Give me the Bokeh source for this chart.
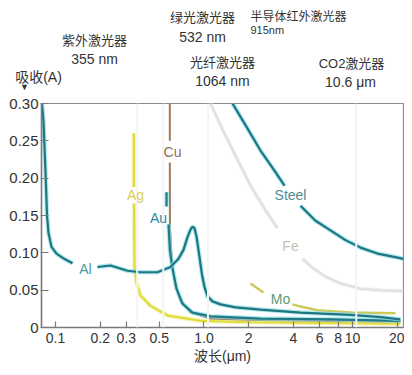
from bokeh.plotting import figure
from bokeh.layouts import column
from bokeh.models import Range1d, FixedTicker, Label, Span
from bokeh.embed import file_html
from bokeh.resources import INLINE

NAN = float("nan")

# ---- axes ----
x_ticks = [0.1, 0.2, 0.3, 0.5, 1.0, 2, 4, 6, 8, 10, 20]
x_tick_labels = ["0.1", "0.2", "0.3", "0.5", "1.0", "2", "4", "6", "8", "10", "20"]
y_ticks = [0, 0.05, 0.10, 0.15, 0.20, 0.25, 0.30]
y_tick_labels = ["0", "0.05", "0.10", "0.15", "0.20", "0.25", "0.30"]

# ---- laser wavelengths (um) ----
laser_wl = [0.355, 0.532, 1.064, 10.6]

# ---- absorption curves: wavelength (um) / absorption A ----
al_wl = [0.0811, 0.0830, 0.0856, 0.0877, 0.0897, 0.0940, 0.1016, 0.1144, 0.1302, NAN,
         0.1918, 0.2346, 0.3054, 0.3736, 0.4862, 0.5947, 0.6734, 0.7277, 0.7743, 0.8111,
         0.8367, 0.8630, 0.8902, 0.9255, 0.9694, 1.008, 1.056, 1.141, 1.291, 1.630,
         2.402, 4.465, 9.694, 15.44, 21.0]
al_abs = [0.300, 0.277, 0.210, 0.150, 0.127, 0.108, 0.099, 0.092, 0.086, NAN,
          0.081, 0.083, 0.076, 0.074, 0.074, 0.081, 0.092, 0.104, 0.121, 0.131,
          0.135, 0.133, 0.122, 0.099, 0.071, 0.054, 0.042, 0.035, 0.031, 0.027,
          0.024, 0.020, 0.017, 0.014, 0.011]

ag_wl = [0.337, 0.337, NAN, 0.338, 0.3404, 0.3511, 0.3736, 0.4362, 0.5679, 0.9472, 2.057, 21.0]
ag_abs = [0.260, 0.188, NAN, 0.166, 0.083, 0.060, 0.043, 0.029, 0.016, 0.009, 0.007, 0.005]

cu_wl = [0.5886, 0.5886, NAN, 0.5886, 0.5897, 0.6089, 0.6428, 0.6947, 0.8111, 1.106, 2.402, 21.0]
cu_abs = [0.300, 0.250, NAN, 0.221, 0.134, 0.087, 0.056, 0.036, 0.020, 0.012, 0.010, 0.008]

au_wl = [0.5594, 0.5594, NAN, 0.577, 0.5897, 0.6136, 0.6529, 0.7164, 0.8367, 1.106, 2.402, 7.11, 21.0]
au_abs = [0.181, 0.162, NAN, 0.138, 0.103, 0.079, 0.052, 0.032, 0.020, 0.015, 0.012, 0.011, 0.009]

steel_wl = [1.556, 1.903, 2.402, 3.030, 3.484, NAN, 4.465, 5.635, 7.109, 8.973, 11.32, 14.74, 19.79, 22.05]
steel_abs = [0.300, 0.271, 0.237, 0.208, 0.190, NAN, 0.163, 0.143, 0.130, 0.117, 0.107, 0.099, 0.094, 0.092]

fe_wl = [1.106, 1.291, 1.630, 2.057, 2.595, 3.126, NAN, 4.606, 5.378, 6.579, 8.302, 11.32, 15.44, 22.0]
fe_abs = [0.300, 0.271, 0.230, 0.190, 0.157, 0.133, NAN, 0.092, 0.080, 0.068, 0.059, 0.052, 0.050, 0.049]

mo_wl = [2.057, 2.515, NAN, 3.945, 4.465, 5.812, 9.694, 19.49]
mo_abs = [0.059, 0.047, NAN, 0.031, 0.028, 0.023, 0.020, 0.019]

FONT = "Liberation Sans, Noto Sans CJK SC"

# ---------- header strip with laser annotations ----------
top = figure(width=404, height=90, x_range=Range1d(0, 404), y_range=Range1d(90, 0),
             output_backend="svg", toolbar_location=None,
             x_axis_location=None, y_axis_location=None,
             min_border_left=0, min_border_right=0, min_border_top=0, min_border_bottom=0)
top.frame_align = False
top.outline_line_color = None
top.xgrid.visible = False
top.ygrid.visible = False
top_labels = [
    ("紫外激光器", 94, 40, "center", "13px"),
    ("355 nm", 94, 58, "center", "14px"),
    ("绿光激光器", 202, 17, "center", "13px"),
    ("532 nm", 202, 36, "center", "14px"),
    ("半导体红外激光器", 250, 16, "left", "12px"),
    ("915nm", 250, 29, "left", "11px"),
    ("光纤激光器", 222, 62, "center", "13px"),
    ("1064 nm", 222, 80, "center", "14px"),
    ("CO2激光器", 351, 63, "center", "13px"),
    ("10.6 μm", 350, 81, "center", "14px"),
    ("吸收(A)", 38, 76, "center", "14px"),
    ("▼", 24, 86, "center", "9px"),
]
for t, x, y, al, fs in top_labels:
    top.add_layout(Label(x=x, y=y, text=t, text_align=al, text_baseline="middle",
                         text_font=FONT, text_font_size=fs, text_color="#333333"))

# ---------- main chart ----------
p = figure(width=404, height=277, x_axis_type="log",
           x_range=Range1d(0.0805, 22.05), y_range=Range1d(0, 0.30),
           output_backend="svg", toolbar_location=None,
           min_border_left=41, min_border_right=1, min_border_top=13, min_border_bottom=40)
p.frame_align = False
p.background_fill_color = "white"
p.border_fill_color = "white"
p.outline_line_color = "#8c8c8c"
p.outline_line_width = 1.2
p.xgrid.visible = False
p.ygrid.visible = False

for w in laser_wl:
    p.add_layout(Span(location=w, dimension="height", line_color="#f4f4f4", line_width=2))

# Fe (light gray)
p.line(fe_wl, fe_abs, line_color="#f0f0f0", line_width=4)
p.line(fe_wl, fe_abs, line_color="#e0e0e0", line_width=2)
# Mo
p.line(mo_wl, mo_abs, line_color="#cdca5a", line_width=2.5)
# Steel
p.line(steel_wl, steel_abs, line_color="#8fe0ea", line_width=4.5, line_alpha=0.7)
p.line(steel_wl, steel_abs, line_color="#1f7580", line_width=2.2)
# Ag
p.line(ag_wl, ag_abs, line_color="#f2f0a0", line_width=4.5, line_alpha=0.7)
p.line(ag_wl, ag_abs, line_color="#e0dc3a", line_width=2.2)
# Cu
p.line(cu_wl, cu_abs, line_color="#9c7a5c", line_width=2.0)
# Au
p.line(au_wl, au_abs, line_color="#8fe0ea", line_width=4.5, line_alpha=0.7)
p.line(au_wl, au_abs, line_color="#1f7a85", line_width=2.2)
# Al
p.line(al_wl, al_abs, line_color="#8fe0ea", line_width=4.5, line_alpha=0.7)
p.line(al_wl, al_abs, line_color="#1f7580", line_width=2.2)

# curve labels
curve_labels = [
    ("Al", 0.1592, 0.0777, "#4a9a9a"),
    ("Ag", 0.3457, 0.1768, "#d6d05a"),
    ("Cu", 0.6136, 0.2344, "#8a7060"),
    ("Au", 0.4938, 0.1473, "#2a8aa5"),
    ("Steel", 3.824, 0.1781, "#4f8a95"),
    ("Fe", 3.824, 0.1098, "#c8c0ae"),
    ("Mo", 3.275, 0.0388, "#5d9a6e"),
]
for t, x, y, c in curve_labels:
    p.add_layout(Label(x=x, y=y, text=t, text_align="center", text_baseline="middle",
                       text_font=FONT, text_font_size="14px", text_color=c))

# axes
p.xaxis.ticker = FixedTicker(ticks=x_ticks, minor_ticks=[])
p.xaxis.major_label_overrides = {t: l for t, l in zip(x_ticks, x_tick_labels)}
p.yaxis.ticker = FixedTicker(ticks=y_ticks, minor_ticks=[])
p.yaxis.major_label_overrides = {t: l for t, l in zip(y_ticks, y_tick_labels)}
for ax in (p.xaxis[0], p.yaxis[0]):
    ax.axis_line_color = "#7a7a7a"
    ax.axis_line_width = 1.5
    ax.major_tick_line_color = "#7a7a7a"
    ax.major_tick_line_width = 1.2
    ax.minor_tick_line_color = None
    ax.major_label_text_font = FONT
    ax.major_label_text_font_size = "15px"
    ax.major_label_text_color = "#333333"
p.xaxis.major_tick_in = 6
p.xaxis.major_tick_out = 0
p.xaxis.major_label_standoff = 5
p.xaxis.major_label_text_font_size = "14px"
p.yaxis.major_tick_in = 7
p.yaxis.major_tick_out = 1
p.yaxis.major_label_standoff = 2
p.xaxis.axis_label = "波长(μm)"
p.xaxis.axis_label_text_font = FONT
p.xaxis.axis_label_text_font_size = "14px"
p.xaxis.axis_label_text_font_style = "normal"
p.xaxis.axis_label_text_color = "#333333"
p.xaxis.axis_label_standoff = 2

layout = column(top, p, spacing=0)
open("out.html", "w").write(file_html(layout, INLINE))
